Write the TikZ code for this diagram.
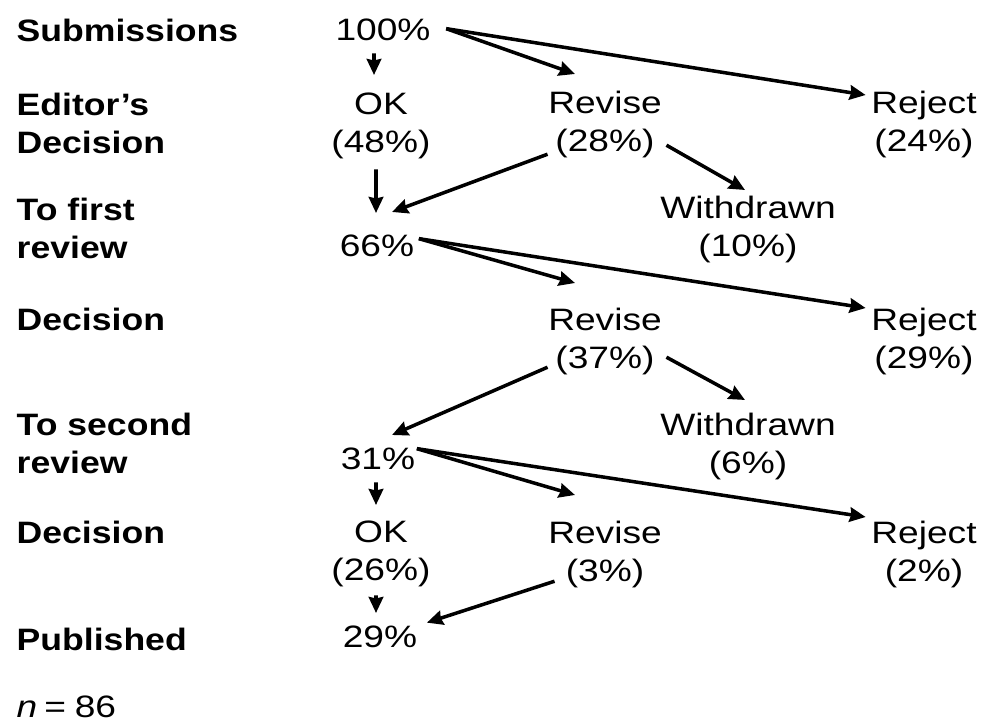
\documentclass[tikz,border=0pt]{standalone}
\usepackage{fontspec}
\setmainfont{Liberation Sans}[FakeStretch=1.2, BoldFeatures={FakeStretch=1.15}]
\usetikzlibrary{arrows.meta}

\begin{document}
\begin{tikzpicture}[x=0.01cm, y=-0.01cm, >={Stealth[length=1.6mm, width=1.45mm, inset=0.15mm]},
    lbl/.style={anchor=north west, inner sep=0pt, align=left, font=\fontsize{8.8}{10.8}\selectfont\bfseries},
    val/.style={anchor=north, inner sep=0pt, align=center, font=\fontsize{8.8}{10.8}\selectfont},
    arr/.style={->, line width=1pt}]
    \useasboundingbox (0,0) rectangle (985,721);

    % stage labels
    \node[lbl] (lSub) at (16,18) {Submissions};
    \node[lbl] (lEd) at (16,92) {Editor’s\\Decision};
    \node[lbl] (lFirst) at (16,197) {To first\\review};
    \node[lbl] (lDecA) at (16,307) {Decision};
    \node[lbl] (lSecond) at (16,412) {To second\\review};
    \node[lbl] (lDecB) at (16,520) {Decision};
    \node[lbl] (lPub) at (16,627) {Published};
    \node[val, anchor=north west] (nCount) at (16,695) {\textit{n}\kern2pt=\kern2.5pt86};

    % shares
    \node[val] (all) at (383,18) {100\%};
    \node[val] (okA) at (381,92) {OK\\(48\%)};
    \node[val] (revA) at (605,90) {Revise\\(28\%)};
    \node[val] (rejA) at (924,90) {Reject\\(24\%)};
    \node[val] (wdA) at (748,195) {Withdrawn\\(10\%)};
    \node[val] (first) at (377,234) {66\%};
    \node[val] (revB) at (605,307) {Revise\\(37\%)};
    \node[val] (rejB) at (924,307) {Reject\\(29\%)};
    \node[val] (wdB) at (748,412) {Withdrawn\\(6\%)};
    \node[val] (second) at (378,447) {31\%};
    \node[val] (okC) at (381,520) {OK\\(26\%)};
    \node[val] (revC) at (605,520) {Revise\\(3\%)};
    \node[val] (rejC) at (924,520) {Reject\\(2\%)};
    \node[val] (pub) at (380,625) {29\%};

    \draw[arr] ([shift={(-0.9mm,-1.2mm)}]all.south) -- ([shift={(-0.7mm,1.7mm)}]okA.north);
    \draw[arr] ([shift={(1.5mm,0.1mm)}]all.east) -- ([shift={(-3mm,1.6mm)}]revA.north);
    \draw[arr] ([shift={(1.5mm,0.1mm)}]all.east) -- ([shift={(-0.5mm,-0.5mm)}]rejA.north west);
    \draw[arr] ([shift={(-0.5mm,-1mm)}]okA.south) -- ([shift={(-0.1mm,2.1mm)}]first.north);
    \draw[arr] ([shift={(0mm,0.4mm)}]revA.south west) -- ([shift={(1.5mm,2.2mm)}]first.north);
    \draw[arr] ([shift={(0.4mm,1.3mm)}]revA.south east) -- ([shift={(-0.3mm,0.5mm)}]wdA.north);

    \draw[arr] ([shift={(0.4mm,0.7mm)}]first.east) -- ([shift={(-3mm,2.4mm)}]revB.north);
    \draw[arr] ([shift={(0.4mm,0.7mm)}]first.east) -- ([shift={(-0.5mm,-0.1mm)}]rejB.north west);
    \draw[arr] ([shift={(0mm,0.8mm)}]revB.south west) -- ([shift={(1.4mm,1.2mm)}]second.north);
    \draw[arr] ([shift={(0.4mm,1.8mm)}]revB.south east) -- ([shift={(-0.3mm,1.2mm)}]wdB.north);

    \draw[arr] ([shift={(-0.2mm,-1.2mm)}]second.south) -- ([shift={(-0.5mm,1.5mm)}]okC.north);
    \draw[arr] ([shift={(0.1mm,1mm)}]second.east) -- ([shift={(-3mm,2.5mm)}]revC.north);
    \draw[arr] ([shift={(0.1mm,1mm)}]second.east) -- ([shift={(-0.5mm,0.3mm)}]rejC.north west);
    \draw[arr] ([shift={(-0.5mm,-0.8mm)}]okC.south) -- ([shift={(-0.4mm,1.2mm)}]pub.north);
    \draw[arr] ([shift={(0.7mm,0.7mm)}]revC.south west) -- ([shift={(0.9mm,1.4mm)}]pub.east);
\end{tikzpicture}
\end{document}
